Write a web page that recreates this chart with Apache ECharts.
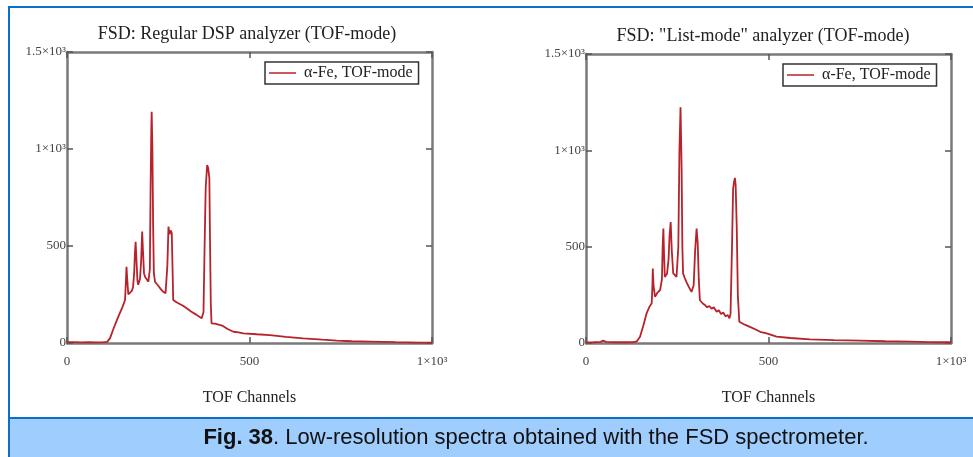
<!DOCTYPE html>
<html>
<head>
<meta charset="utf-8">
<script src="https://cdn.jsdelivr.net/npm/echarts@6/dist/echarts.min.js"></script>
<style>
html, body { margin: 0; padding: 0; background: #fff; }
#chart { width: 973px; height: 457px; }
</style>
</head>
<body>
<div id="chart"></div>
<script>
// tick values / labels (same on both panels)
var xTickValues = [0, 500, 1000]
var xTickLabels = ['0', '500', '1×10³']
var yTickValues = [0, 500, 1000, 1500]
var yTickLabels = ['0', '500', '1×10³', '1.5×10³']

var seriesName = 'α-Fe, TOF-mode'
var leftTitle = 'FSD: Regular DSP analyzer (TOF-mode)'
var rightTitle = 'FSD: "List-mode" analyzer (TOF-mode)'
var xName = 'TOF Channels'

// left panel: regular DSP analyzer, [channel, counts]
var leftSpectrum = [
    [0, 4], [20, 5], [40, 3], [60, 4], [80, 3], [100, 4], [110, 6], [118, 25],
    [126, 67], [135, 110], [145, 155], [152, 185], [159, 222], [161, 300], [163, 393],
    [165, 330], [168, 250], [173, 247], [178, 270], [181, 289], [184, 360], [186, 460],
    [188, 522], [190, 440], [193, 320], [195, 300], [200, 330], [203, 420], [206, 574],
    [208, 480], [211, 360], [214, 340], [218, 330], [223, 316], [227, 380], [229, 800],
    [231, 1100], [232, 1192], [234, 1000], [236, 600], [238, 360], [241, 316], [250, 295],
    [258, 275], [264, 264], [270, 256], [273, 256], [275, 400], [278, 600], [281, 560],
    [284, 580], [287, 567], [289, 400], [291, 222], [300, 210], [310, 200], [318, 192],
    [328, 179], [340, 162], [355, 145], [369, 127], [374, 160], [377, 500], [380, 800],
    [384, 917], [387, 900], [390, 850], [392, 500], [394, 200], [396, 101], [405, 100],
    [410, 100], [425, 90], [440, 72], [456, 58], [470, 55], [483, 50], [520, 45],
    [556, 41], [600, 32], [647, 24], [700, 17], [739, 12], [780, 9], [830, 7],
    [900, 4], [967, 2], [1000, 2]
]

// right panel: "list-mode" analyzer
var rightSpectrum = [
    [0, 3], [20, 4], [40, 6], [47, 12], [55, 6], [80, 4], [110, 4], [130, 5],
    [139, 8], [148, 33], [157, 90], [166, 154], [173, 185], [180, 206], [182, 300],
    [183, 387], [185, 300], [189, 240], [196, 262], [203, 275], [208, 330], [210, 500],
    [212, 594], [214, 450], [216, 343], [222, 360], [226, 430], [229, 560], [232, 628],
    [235, 480], [239, 361], [244, 355], [248, 343], [253, 500], [256, 1000], [259, 1223],
    [262, 900], [264, 500], [266, 361], [270, 340], [275, 317], [282, 290], [289, 265],
    [295, 300], [299, 480], [303, 594], [306, 520], [309, 330], [312, 222], [320, 205],
    [326, 197], [332, 185], [338, 192], [344, 178], [350, 186], [358, 162], [364, 170],
    [370, 150], [376, 158], [382, 138], [388, 146], [393, 128], [396, 150], [400, 500],
    [403, 800], [406, 840], [408, 857], [410, 820], [413, 600], [416, 250], [420, 110],
    [435, 95], [449, 84], [465, 70], [477, 58], [495, 50], [522, 33], [560, 26],
    [614, 19], [680, 15], [751, 12], [820, 9], [888, 7], [940, 5], [970, 4], [1000, 4]
]

var serif = 'Liberation Serif'
var frameColor = '#7a7a7a'
var lineColor = '#b8222b'

function labelOf(values, labels) {
    return function (v) {
        var i = values.indexOf(v)
        return i < 0 ? '' : labels[i]
    }
}

// one panel = 2 x axes (bottom/top) + 2 y axes (left/right) in a grid
function xAxes(grid) {
    var base = {
        gridIndex: grid, type: 'value', min: 0, max: 1000, interval: 500,
        axisLine: { show: true, onZero: false, lineStyle: { color: frameColor, width: 2.5 } },
        axisTick: { show: true, inside: true, length: 6, lineStyle: { color: '#555', width: 1.5 } },
        splitLine: { show: false }
    }
    return [
        Object.assign({}, base, {
            position: 'bottom',
            axisLabel: {
                margin: 12, color: '#444', fontFamily: serif, fontSize: 13,
                formatter: labelOf(xTickValues, xTickLabels)
            },
            name: xName, nameLocation: 'middle', nameGap: 47,
            nameTextStyle: { color: '#222', fontFamily: serif, fontSize: 16 }
        }),
        Object.assign({}, base, { position: 'top', axisLabel: { show: false } })
    ]
}

function yAxes(grid) {
    var base = {
        gridIndex: grid, type: 'value', min: 0, max: 1500, interval: 500,
        axisLine: { show: true, onZero: false, lineStyle: { color: frameColor, width: 2.5 } },
        axisTick: { show: true, inside: true, length: 6, lineStyle: { color: '#555', width: 1.5 } },
        splitLine: { show: false }
    }
    return [
        Object.assign({}, base, {
            position: 'left',
            axisLabel: {
                margin: 1, color: '#444', fontFamily: serif, fontSize: 13,
                formatter: labelOf(yTickValues, yTickLabels)
            }
        }),
        Object.assign({}, base, { position: 'right', axisLabel: { show: false } })
    ]
}

function legendAt(left, top) {
    return {
        left: left, top: top, orient: 'horizontal',
        data: [{ name: seriesName, icon: 'rect' }],
        itemWidth: 27, itemHeight: 1.5, itemGap: 4,
        padding: [3, 6, 3, 4],
        borderColor: '#333', borderWidth: 1.5, borderRadius: 0,
        backgroundColor: '#fff',
        textStyle: { color: '#222', fontFamily: serif, fontSize: 16, padding: [0, 0, 0, 3] }
    }
}

var dom = document.getElementById('chart')
var chart = echarts.init(dom, null, { renderer: 'canvas' })

var option = {
    backgroundColor: '#fff',
    animation: false,
    title: [
        { text: leftTitle, left: 242, top: 20, textAlign: 'center',
          textStyle: { color: '#222', fontFamily: serif, fontSize: 18, fontWeight: 'normal' } },
        { text: rightTitle, left: 758, top: 22, textAlign: 'center',
          textStyle: { color: '#222', fontFamily: serif, fontSize: 18, fontWeight: 'normal' } }
    ],
    legend: [legendAt(265, 62), legendAt(783, 64)],
    grid: [
        { left: 67, top: 52, width: 365, height: 291 },
        { left: 586, top: 54, width: 365, height: 289 }
    ],
    xAxis: xAxes(0).concat(xAxes(1)),
    yAxis: yAxes(0).concat(yAxes(1)),
    series: [
        {
            name: seriesName, type: 'line', xAxisIndex: 0, yAxisIndex: 0,
            data: leftSpectrum, showSymbol: false, symbol: 'none',
            lineStyle: { color: lineColor, width: 1.8 }, itemStyle: { color: lineColor }
        },
        {
            name: seriesName, type: 'line', xAxisIndex: 2, yAxisIndex: 2,
            data: rightSpectrum, showSymbol: false, symbol: 'none',
            lineStyle: { color: lineColor, width: 1.8 }, itemStyle: { color: lineColor }
        }
    ],
    graphic: [
        // caption bar
        { type: 'rect', shape: { x: 9, y: 418, width: 964, height: 39 },
          style: { fill: '#9fcdfd' }, silent: true },
        { type: 'rect', shape: { x: 8, y: 417, width: 965, height: 2 },
          style: { fill: '#0b6fc7' }, silent: true },
        // blue frame: top and left
        { type: 'rect', shape: { x: 8, y: 6, width: 965, height: 2 },
          style: { fill: '#0b6fc7' }, silent: true },
        { type: 'rect', shape: { x: 8, y: 6, width: 2, height: 451 },
          style: { fill: '#0b6fc7' }, silent: true },
        { type: 'text', x: 536, y: 438, silent: true,
          style: {
              text: '{b|Fig. 38}. Low-resolution spectra obtained with the FSD spectrometer.',
              fill: '#111', font: '22px "Liberation Sans", Arial, sans-serif',
              align: 'center', verticalAlign: 'middle',
              rich: { b: { fontWeight: 'bold', fontSize: 22, fontFamily: 'Liberation Sans', fill: '#111' } }
          } }
    ]
}

chart.setOption(option)
</script>
</body>
</html>
